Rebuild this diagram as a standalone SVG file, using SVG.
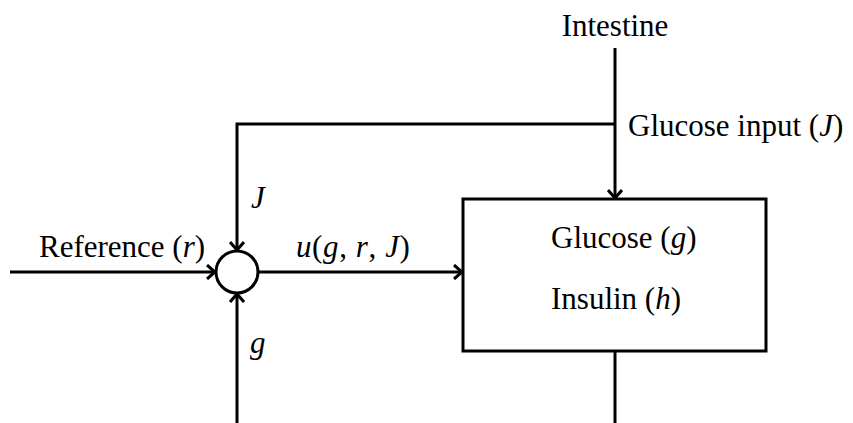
<svg xmlns="http://www.w3.org/2000/svg" width="853" height="423" viewBox="0 0 853 423">
<defs>
<style>
.t{font-family:"Liberation Serif","Times New Roman",serif;font-size:31px;fill:#000}
.i{font-style:italic}
.l{fill:none;stroke:#000;stroke-width:3}
</style>
<marker id="a" markerWidth="16" markerHeight="16" refX="14" refY="8" orient="auto" markerUnits="userSpaceOnUse">
<path d="M6,1 L14,8 L6,15" fill="none" stroke="#000" stroke-width="3"/>
</marker>
</defs>
<rect width="853" height="423" fill="#fff"/>
<g id="connectors">
<path class="l" d="M615,48 V198" marker-end="url(#a)"/>
<path class="l" d="M615,124 H237 V250" marker-end="url(#a)"/>
<path class="l" d="M10,272 H215" marker-end="url(#a)"/>
<path class="l" d="M259,272 H462" marker-end="url(#a)"/>
<path class="l" d="M237,423 V294" marker-end="url(#a)"/>
<path class="l" d="M615,351 V423"/>
</g>
<g id="sum">
<circle class="l" cx="237" cy="272" r="21"/>
</g>
<g id="plant">
<rect class="l" x="463" y="199" width="303" height="152"/>
<text class="t" x="551" y="248">Glucose (<tspan class="i">g</tspan>)</text>
<text class="t" x="551" y="309">Insulin (<tspan class="i">h</tspan>)</text>
</g>
<g id="labels">
<text class="t" x="615" y="36" text-anchor="middle">Intestine</text>
<text class="t" x="628" y="136">Glucose input (<tspan class="i">J</tspan>)</text>
<text class="t i" x="251" y="208">J</text>
<text class="t" x="39" y="257">Reference (<tspan class="i">r</tspan>)</text>
<text class="t" x="296" y="257" letter-spacing="0.6"><tspan class="i">u</tspan>(<tspan class="i">g</tspan>, <tspan class="i">r</tspan>, <tspan class="i">J</tspan>)</text>
<text class="t i" x="250" y="353">g</text>
</g>
</svg>
